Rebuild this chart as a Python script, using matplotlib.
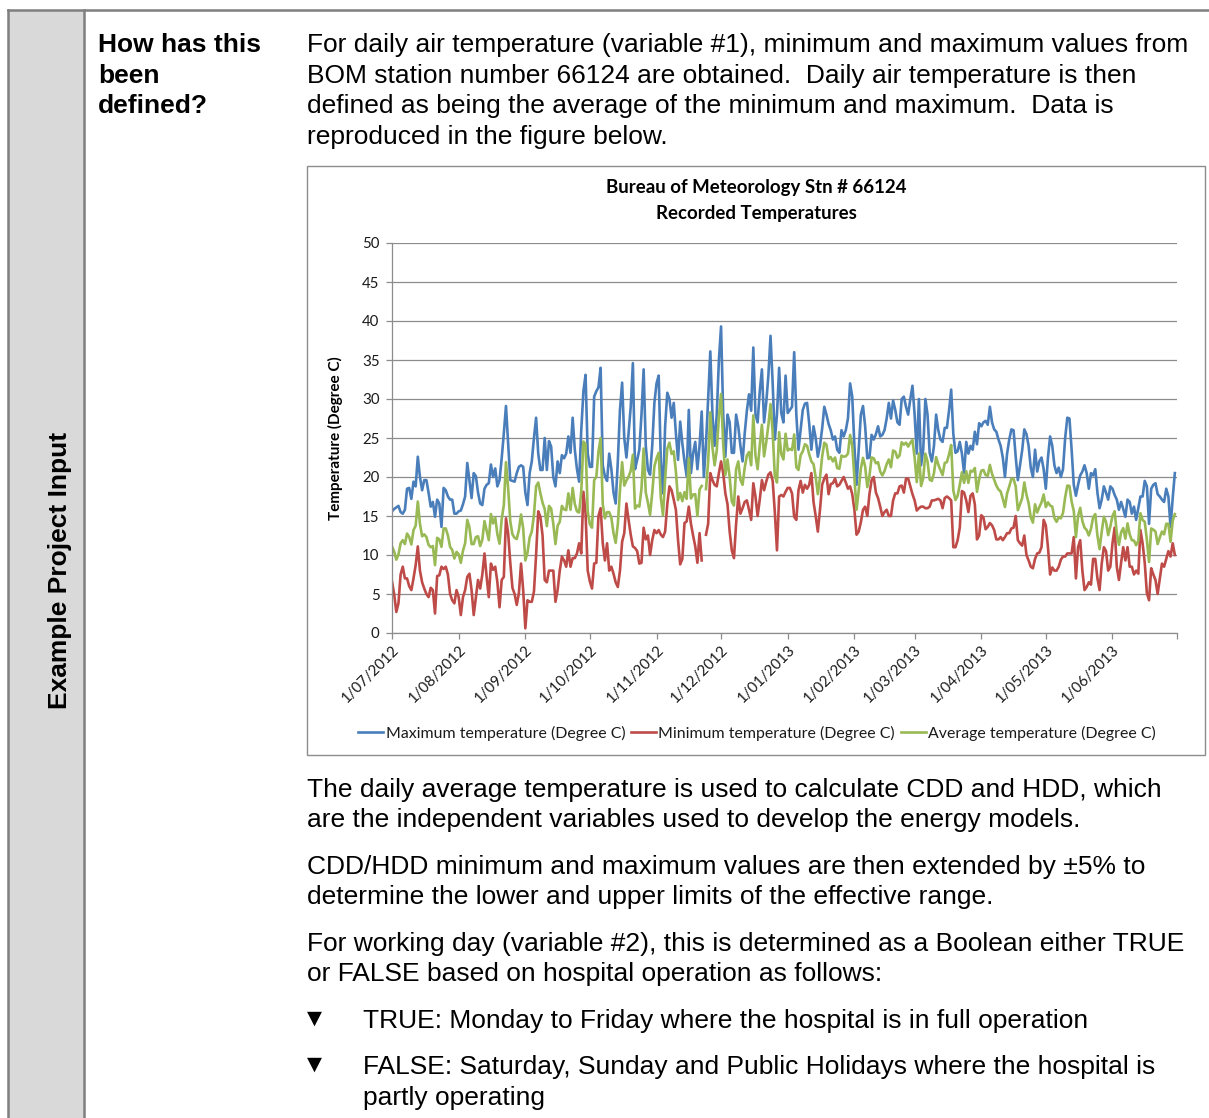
import numpy as np
import pandas as pd
import matplotlib
matplotlib.use("Agg")
import matplotlib.pyplot as plt
import matplotlib.dates as mdates
from matplotlib.patches import Rectangle
from matplotlib.lines import Line2D

# ---------------- data (daily 1/07/2012 - 30/06/2013) -------------
max_temp = [
    15.6, 15.9, 16.1, 16.3, 15.5, 15.3, 15.8, 18.5, 18.6, 17.2,
    19.4, 18.8, 22.6, 20.0, 18.3, 19.6, 19.6, 18.0, 16.2, 16.8,
    14.9, 17.1, 16.6, 13.6, 18.6, 18.3, 17.5, 17.1, 17.1, 15.3,
    15.3, 15.6, 15.7, 16.5, 17.5, 21.8, 19.5, 17.3, 20.5, 20.1,
    18.0, 16.6, 16.4, 18.5, 19.0, 19.2, 21.6, 20.0, 21.1, 18.8,
    19.6, 22.4, 25.6, 29.1, 24.3, 19.6, 19.5, 19.4, 20.5, 21.3,
    21.5, 21.3, 18.0, 16.4, 20.5, 22.0, 25.0, 27.6, 23.0, 20.9,
    20.9, 25.0, 20.9, 24.6, 23.9, 20.0, 18.8, 22.0, 20.5, 22.8,
    22.4, 23.0, 25.2, 23.1, 27.6, 23.5, 21.0, 19.4, 26.0, 31.0,
    33.1, 23.0, 21.3, 21.3, 30.3, 31.0, 31.5, 34.0, 21.5, 20.1,
    19.5, 23.0, 21.0, 18.0, 16.6, 22.0, 28.6, 32.1, 25.0, 22.5,
    25.6, 29.0, 34.6, 21.0, 22.2, 23.5, 28.0, 33.8, 24.0, 20.9,
    20.3, 24.0, 29.5, 32.0, 33.0, 22.0, 17.9, 26.5, 30.8, 30.0,
    27.6, 29.5, 25.6, 22.2, 27.1, 24.3, 22.0, 20.1, 28.6, 20.5,
    23.0, 24.5, 21.0, 24.0, 28.4, 20.0, 24.3, 30.0, 36.1, 28.0,
    24.0, 28.0, 35.0, 39.3, 28.0, 22.6, 28.0, 27.0, 23.1, 23.1,
    28.0, 26.5, 24.0, 22.0, 25.6, 28.5, 30.6, 28.5, 36.6, 28.0,
    27.0, 31.0, 33.8, 27.0, 29.5, 33.0, 38.1, 32.0, 24.8, 28.0,
    34.0, 28.2, 27.0, 33.0, 28.2, 28.6, 29.0, 36.0, 28.0, 23.5,
    26.1, 28.6, 29.4, 29.5, 26.8, 23.5, 26.5, 25.0, 22.6, 24.0,
    26.2, 29.0, 28.0, 26.8, 26.0, 24.8, 25.2, 23.5, 23.1, 26.0,
    25.2, 26.0, 27.5, 32.0, 30.3, 24.0, 19.0, 23.5, 28.0, 29.1,
    26.5, 22.4, 22.5, 25.4, 24.8, 25.5, 26.5, 25.2, 25.4, 26.0,
    27.5, 29.5, 27.5, 29.8, 28.6, 27.0, 26.7, 30.0, 30.3, 29.0,
    28.0, 30.0, 31.7, 28.0, 23.0, 30.0, 21.5, 23.5, 30.0, 28.0,
    23.1, 22.0, 24.0, 28.0, 26.0, 24.8, 24.5, 26.3, 26.3, 28.5,
    31.2, 25.5, 23.1, 23.3, 24.5, 23.0, 20.5, 24.5, 23.0, 24.0,
    23.5, 25.8, 24.2, 26.9, 26.5, 27.0, 27.2, 26.7, 29.0, 27.0,
    26.1, 25.8, 24.8, 24.0, 22.5, 20.0, 23.0, 24.8, 26.1, 26.0,
    22.6, 19.6, 21.5, 23.4, 26.1, 25.5, 24.0, 21.2, 20.0, 23.5,
    20.7, 22.0, 22.5, 21.0, 18.5, 22.5, 25.2, 24.0, 21.5, 20.5,
    21.2, 20.0, 21.0, 25.0, 27.6, 27.5, 23.5, 19.0, 17.6, 19.0,
    20.2, 20.7, 21.5, 20.5, 18.5, 20.5, 20.2, 21.0, 18.0, 16.0,
    17.1, 18.8, 18.0, 17.1, 18.8, 18.5, 17.7, 17.1, 15.8, 16.8,
    15.9, 14.9, 17.1, 16.8, 15.3, 16.2, 14.5, 16.0, 17.5, 17.5,
    19.5, 18.8, 14.0, 18.5, 19.0, 19.2, 17.8, 17.5, 17.1, 16.8,
    18.5, 17.5, 13.6, 17.3, 20.5,
]

min_temp = [
    6.6, 5.0, 2.7, 3.8, 7.5, 8.5, 7.0, 7.0, 6.0, 5.5,
    7.0, 8.7, 11.1, 8.0, 6.5, 5.7, 5.0, 4.6, 5.8, 5.5,
    2.5, 7.3, 7.4, 8.5, 8.2, 8.5, 7.5, 5.0, 4.2, 3.8,
    5.5, 4.6, 2.3, 4.6, 5.5, 7.2, 7.6, 5.5, 2.3, 4.5,
    6.8, 5.7, 7.5, 10.2, 7.2, 4.6, 8.9, 8.1, 8.5, 6.5,
    3.3, 6.8, 7.2, 14.7, 12.8, 9.0, 5.8, 5.0, 3.6, 5.1,
    8.9, 5.5, 0.6, 4.2, 4.0, 4.0, 5.3, 10.0, 15.6, 14.9,
    12.5, 6.8, 6.5, 8.0, 8.0, 8.0, 4.0, 5.5, 8.0, 9.8,
    9.3, 8.5, 10.6, 8.5, 9.6, 9.6, 10.2, 11.5, 10.2, 18.1,
    15.3, 8.0, 6.6, 5.7, 8.9, 9.0, 15.0, 16.0, 11.5, 9.3,
    11.5, 8.0, 8.5, 7.6, 6.5, 5.9, 8.0, 11.7, 12.8, 16.6,
    14.5, 12.6, 11.1, 10.9, 10.5, 8.9, 9.0, 13.5, 12.0, 12.5,
    10.0, 11.9, 13.2, 12.8, 13.2, 12.6, 12.3, 13.0, 16.5, 18.8,
    18.3, 17.1, 15.8, 11.9, 8.8, 9.5, 14.1, 14.3, 16.2, 14.0,
    12.5, 11.1, 9.0, 12.8, 9.3, np.nan, 12.6, 14.0, 20.5, 19.6,
    19.0, 18.8, 20.5, 22.0, 20.5, 17.9, 16.5, 13.0, 10.6, 9.6,
    14.0, 17.5, 15.3, 16.0, 16.8, 17.0, 15.8, 14.5, 19.2, 17.5,
    15.0, 17.1, 19.6, 18.3, 19.4, 20.3, 20.6, 19.5, 15.5, 10.6,
    17.5, 17.7, 17.5, 18.1, 18.6, 18.6, 17.9, 14.9, 14.5, 18.3,
    19.5, 18.0, 19.0, 18.5, 19.0, 20.5, 16.8, 15.0, 13.0, 15.8,
    19.0, 19.8, 20.3, 17.8, 19.1, 19.2, 19.8, 18.8, 19.0, 19.5,
    20.0, 19.3, 18.5, 18.8, 17.8, 15.8, 12.6, 13.0, 14.2, 15.8,
    16.2, 15.0, 17.8, 19.6, 20.0, 18.0, 17.3, 16.2, 15.0, 15.5,
    15.8, 15.0, 15.0, 17.0, 17.9, 17.9, 18.8, 18.9, 18.0, 19.8,
    19.8, 18.8, 17.8, 17.0, 15.7, 16.0, 16.2, 16.2, 16.0, 16.0,
    16.2, 17.0, 17.0, 17.1, 17.2, 17.0, 16.0, 17.3, 17.5, 17.3,
    17.0, 11.0, 11.0, 11.9, 13.5, 18.2, 18.0, 17.0, 15.5, 17.6,
    17.9, 16.5, 12.0, 12.5, 15.1, 14.8, 13.3, 13.6, 14.1, 13.8,
    13.2, 12.0, 12.0, 12.3, 11.9, 12.3, 12.8, 12.8, 13.4, 13.5,
    15.0, 11.9, 11.5, 11.2, 12.5, 10.0, 9.3, 8.5, 8.3, 9.5,
    10.2, 10.3, 11.0, 14.5, 13.8, 11.0, 7.5, 8.4, 8.0, 8.0,
    8.5, 9.4, 9.8, 9.8, 10.2, 10.2, 10.2, 12.3, 7.0, 11.0,
    11.9, 8.0, 5.5, 5.9, 6.5, 6.2, 9.5, 9.5, 7.0, 5.5,
    8.9, 11.0, 10.5, 8.0, 8.5, 11.5, 13.5, 8.5, 6.8, 9.0,
    11.0, 9.3, 11.0, 8.5, 8.5, 7.5, 8.0, 7.6, 13.2, 11.5,
    9.0, 5.1, 4.2, 8.3, 7.5, 6.8, 5.0, 7.0, 8.9, 8.5,
    9.5, 10.5, 9.8, 11.5, 10.0,
]

start_date = "2012-07-01"
end_date = "2013-07-01"
month_labels = ["1/07/2012", "1/08/2012", "1/09/2012", "1/10/2012", "1/11/2012",
                "1/12/2012", "1/01/2013", "1/02/2013", "1/03/2013", "1/04/2013",
                "1/05/2013", "1/06/2013"]
series_names = ["Maximum temperature (Degree C)", "Minimum temperature (Degree C)",
                "Average temperature (Degree C)"]
title_lines = ["Bureau of Meteorology Stn # 66124", "Recorded Temperatures"]
y_label = "Temperature (Degree C)"

# average defined in the text as the mean of minimum and maximum
avg_temp = (np.array(max_temp) + np.array(min_temp)) / 2.0
dates = pd.date_range(start_date, periods=len(max_temp), freq="D")

# ---------------- figure / page ----------------
W, H = 1209, 1118
fig = plt.figure(figsize=(W / 100, H / 100), dpi=100)
fig.patch.set_facecolor("white")

def fx(x):
    return x / W

def fy(y):
    return 1 - y / H

BODY = ["Liberation Sans", "DejaVu Sans"]
CHART = ["Lato", "DejaVu Sans"]
FS = 19

# left grey column and table lines
fig.add_artist(Rectangle((fx(8), 0), fx(84) - fx(8), fy(10), transform=fig.transFigure,
                         facecolor="#d9d9d9", edgecolor="none", zorder=0))
fig.add_artist(Line2D([fx(8), fx(8)], [0, fy(10)], transform=fig.transFigure, color="#7f7f7f", lw=1.8))
fig.add_artist(Line2D([fx(84), fx(84)], [0, fy(10)], transform=fig.transFigure, color="#7f7f7f", lw=1.8))
fig.add_artist(Line2D([fx(8), 1.0], [fy(10), fy(10)], transform=fig.transFigure, color="#7f7f7f", lw=1.8))

fig.text(fx(60), fy(570), "Example Project Input", rotation=90, ha="center", va="center",
         fontsize=FS, fontweight="bold", family=BODY)

for i, s in enumerate(["How has this", "been", "defined?"]):
    fig.text(fx(98), fy(52 + i * 30.6), s, ha="left", va="baseline", fontsize=FS,
             fontweight="bold", family=BODY)

top_lines = ["For daily air temperature (variable #1), minimum and maximum values from",
             "BOM station number 66124 are obtained.  Daily air temperature is then",
             "defined as being the average of the minimum and maximum.  Data is",
             "reproduced in the figure below."]
for i, s in enumerate(top_lines):
    fig.text(fx(307), fy(52 + i * 30.6), s, ha="left", va="baseline", fontsize=FS, family=BODY)

bottom_lines = [
    (797, "The daily average temperature is used to calculate CDD and HDD, which"),
    (827, "are the independent variables used to develop the energy models."),
    (874, "CDD/HDD minimum and maximum values are then extended by \u00b15% to"),
    (904, "determine the lower and upper limits of the effective range."),
    (951, "For working day (variable #2), this is determined as a Boolean either TRUE"),
    (981, "or FALSE based on hospital operation as follows:"),
]
for y, s in bottom_lines:
    fig.text(fx(307), fy(y), s, ha="left", va="baseline", fontsize=FS, family=BODY)

bullets = [(1028, "TRUE: Monday to Friday where the hospital is in full operation"),
           (1074, "FALSE: Saturday, Sunday and Public Holidays where the hospital is"),
           (1105, "partly operating")]
for j, (y, s) in enumerate(bullets):
    if j < 2:
        fig.text(fx(314), fy(y - 10), "\u25bc", ha="center", va="center", fontsize=14,
                 family=["DejaVu Sans"])
    fig.text(fx(363), fy(y), s, ha="left", va="baseline", fontsize=FS, family=BODY)

# chart frame
fig.add_artist(Rectangle((fx(307), fy(755)), fx(1205) - fx(307), fy(166) - fy(755),
                         transform=fig.transFigure, facecolor="white", edgecolor="#8c8c8c",
                         lw=1.0, zorder=1))

for i, s in enumerate(title_lines):
    fig.text(fx(756), fy(193 + i * 26), s, ha="center", va="baseline",
             fontsize=13.4, fontweight="bold", family=CHART, zorder=3)

# ---------------- chart axes ----------------
ax = fig.add_axes([fx(392), fy(633), fx(1177) - fx(392), fy(243) - fy(633)], zorder=2)
ax.set_facecolor("none")
colors = ["#4a7ebb", "#be4b48", "#98b954"]
ax.plot(dates, max_temp, color=colors[0], lw=1.9, label=series_names[0], solid_joinstyle="round")
ax.plot(dates, min_temp, color=colors[1], lw=1.9, label=series_names[1], solid_joinstyle="round")
ax.plot(dates, avg_temp, color=colors[2], lw=1.9, label=series_names[2], solid_joinstyle="round")

ax.set_ylim(0, 50)
ax.set_yticks(np.arange(0, 51, 5))
tick_dates = pd.date_range(start_date, end_date, freq="MS")
ax.set_xlim(mdates.date2num(pd.Timestamp(start_date)), mdates.date2num(pd.Timestamp(end_date)))
ax.set_xticks(mdates.date2num(tick_dates))
ax.set_xticklabels(month_labels + [""] * (len(tick_dates) - len(month_labels)))

ax.grid(axis="y", color="#8c8c8c", lw=0.9)
ax.set_axisbelow(True)
for side in ["top", "right"]:
    ax.spines[side].set_visible(False)
for side in ["left", "bottom"]:
    ax.spines[side].set_color("#8c8c8c")
    ax.spines[side].set_linewidth(0.9)
ax.tick_params(axis="both", direction="out", length=4, width=0.9, color="#8c8c8c",
               labelsize=10.8, labelcolor="#1a1a1a")
ax.tick_params(axis="y", pad=5)
ax.tick_params(axis="x", pad=3)
for lab in ax.get_yticklabels() + ax.get_xticklabels():
    lab.set_family(CHART)
for lab in ax.get_xticklabels():
    lab.set_rotation(45)
    lab.set_ha("right")
    lab.set_va("top")
    lab.set_rotation_mode("anchor")

fig.text(fx(335), fy(438), y_label, rotation=90, ha="center", va="center",
         fontsize=11, fontweight="bold", family=CHART, zorder=3)

leg = fig.legend(loc="center", bbox_to_anchor=(fx(757), fy(733)), ncol=3, frameon=False,
                 handlelength=1.6, handletextpad=0.15, columnspacing=0.35,
                 prop={"family": CHART, "size": 11.4})
for t in leg.get_texts():
    t.set_color("#1a1a1a")

fig.savefig("out.png", dpi=100)
